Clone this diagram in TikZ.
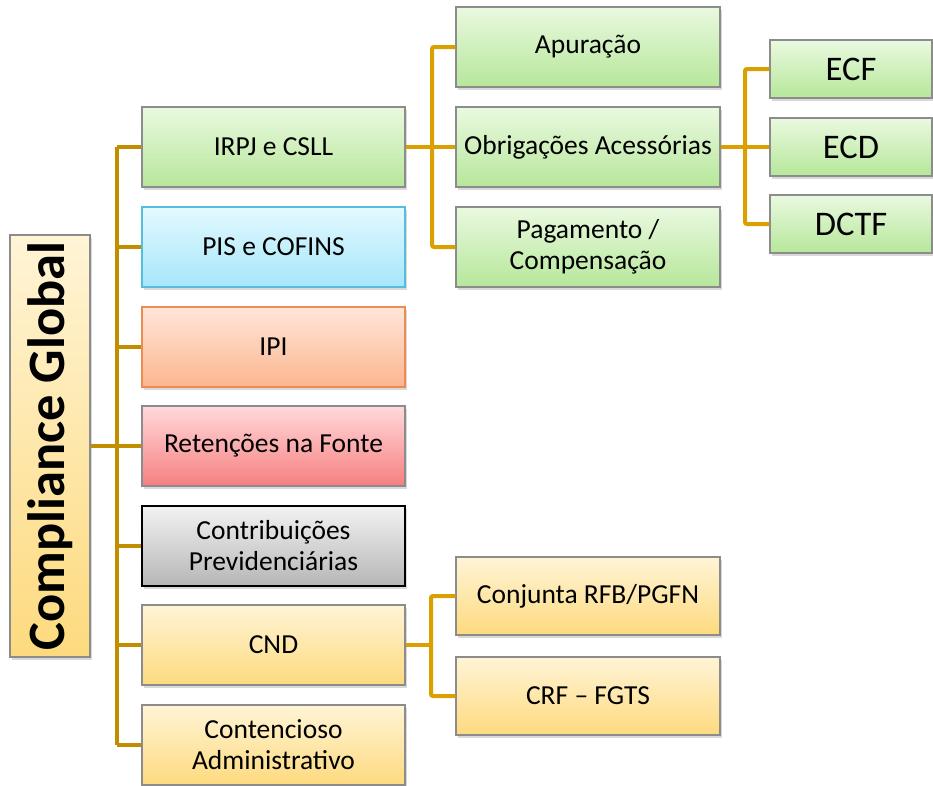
\documentclass[tikz,border=0pt]{standalone}
\usepackage{fontspec}
\setmainfont{Carlito}
\usetikzlibrary{shadows}
\definecolor{trunkc}{HTML}{C28E00}
\definecolor{subc}{HTML}{D9A000}
\definecolor{gtop}{HTML}{EAF9E0}
\definecolor{gbot}{HTML}{B6E79A}
\definecolor{btop}{HTML}{E3F9FF}
\definecolor{bbot}{HTML}{A6E6FA}
\definecolor{bdraw}{HTML}{55BEDC}
\definecolor{otop}{HTML}{FFE6DA}
\definecolor{obot}{HTML}{FBB68E}
\definecolor{odraw}{HTML}{EE8A52}
\definecolor{rtop}{HTML}{FFD9DB}
\definecolor{rbot}{HTML}{F77F80}
\definecolor{ktop}{HTML}{F2F2F2}
\definecolor{kbot}{HTML}{B6B6B6}
\definecolor{ytop}{HTML}{FFF4D6}
\definecolor{ybot}{HTML}{FDDA7E}
\definecolor{edge}{HTML}{8C8C8C}
\begin{document}
\begin{tikzpicture}[x=1pt,y=-1pt,
  box/.style={draw=edge, line width=1.2pt, inner sep=0pt, align=center,
    minimum width=263pt, minimum height=80pt,
    font=\fontsize{27.5}{31}\selectfont,
    drop shadow={shadow xshift=2pt,shadow yshift=-2.5pt,opacity=0.3}},
  green/.style={box, top color=gtop, bottom color=gbot},
  blue/.style={box, top color=btop, bottom color=bbot, draw=bdraw},
  orange/.style={box, top color=otop, bottom color=obot, draw=odraw},
  red/.style={box, top color=rtop, bottom color=rbot},
  grey/.style={box, top color=ktop, bottom color=kbot, draw=black, line width=1.8pt},
  yellow/.style={box, top color=ytop, bottom color=ybot},
  small/.style={minimum width=162pt, minimum height=58pt, font=\fontsize{34.5}{38}\selectfont},
  trunk/.style={draw=trunkc, line width=4.5pt},
  sub/.style={draw=subc, line width=4pt, rounded corners=2pt}
]
\useasboundingbox (0,0) rectangle (933,785);

% root
\node[yellow, minimum width=80pt, minimum height=422pt] (root) at (50,446)
  {\rotatebox{90}{\fontsize{52.5}{56}\selectfont\bfseries Compliance Global}};

% level 1
\node[green]  (irpj) at (273.5,147) {IRPJ e CSLL};
\node[blue]   (pis)  at (273.5,247) {PIS e COFINS};
\node[orange] (ipi)  at (273.5,347) {IPI};
\node[red]    (ret)  at (273.5,446) {Retenções na Fonte};
\node[grey]   (prev) at (273.5,546) {Contribuições\\Previdenciárias};
\node[yellow] (cnd)  at (273.5,645) {CND};
\node[yellow] (cont) at (273.5,745) {Contencioso\\Administrativo};

% level 2 (IRPJ)
\node[green, minimum width=264pt] (apu) at (588,47)  {Apuração};
\node[green, minimum width=264pt] (obr) at (588,147) {Obrigações Acessórias};
\node[green, minimum width=264pt] (pag) at (588,247) {Pagamento /\\Compensação};

% level 3
\node[green, small] (ecf)  at (851,69)  {ECF};
\node[green, small] (ecd)  at (851,147) {ECD};
\node[green, small] (dctf) at (851,224) {DCTF};

% level 2 (CND)
\node[yellow, minimum width=264pt, minimum height=78pt] (conj) at (588,596) {Conjunta RFB/PGFN};
\node[yellow, minimum width=264pt, minimum height=78pt] (crf)  at (588,696) {CRF -- FGTS};

% connectors: trunk
\coordinate (tr) at (117,0);
\draw[trunk] (root.east) -- (root.east -| tr);
\draw[trunk] (tr |- irpj.west) -- (tr |- cont.west);
\foreach \n in {irpj,pis,ipi,ret,prev,cnd,cont}
  \draw[trunk] (tr |- \n.west) -- (\n.west);

% IRPJ children
\coordinate (ta) at (432,0);
\draw[sub] (irpj.east) -- (obr.west);
\draw[sub] (apu.west) -- (ta |- apu.west) -- (ta |- pag.west) -- (pag.west);

% Obrigações children
\coordinate (tb) at (745,0);
\draw[sub] (obr.east) -- (ecd.west);
\draw[sub] (ecf.west) -- (tb |- ecf.west) -- (tb |- dctf.west) -- (dctf.west);

% CND children
\coordinate (tc) at (431,0);
\draw[sub] (cnd.east) -- (cnd.east -| tc);
\draw[sub] (conj.west) -- (tc |- conj.west) -- (tc |- crf.west) -- (crf.west);
\end{tikzpicture}
\end{document}
